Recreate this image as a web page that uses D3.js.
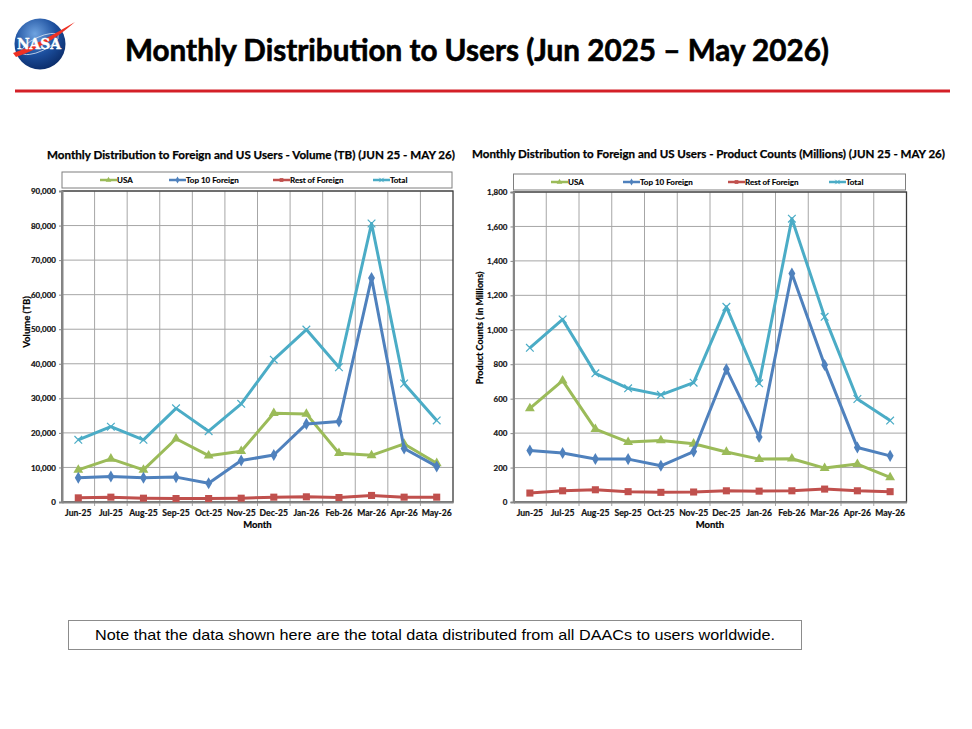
<!DOCTYPE html>
<html>
<head>
<meta charset="utf-8">
<script src="https://cdn.jsdelivr.net/npm/d3@7"></script>
<style>
  body { margin: 0; background: #fff; }
  text { font-family: Lato, "Open Sans", sans-serif; }
</style>
</head>
<body>
<div id="chart"></div>
<script>
// data
var months = ["Jun-25", "Jul-25", "Aug-25", "Sep-25", "Oct-25", "Nov-25",
              "Dec-25", "Jan-26", "Feb-26", "Mar-26", "Apr-26", "May-26"];

var volUSA   = [9300, 12500, 9300, 18300, 13400, 14700, 25700, 25500, 14100, 13500, 16800, 11200];
var volTop10 = [7000, 7400, 7000, 7200, 5400, 12000, 13600, 22600, 23300, 64800, 15500, 10300];
var volRest  = [1200, 1400, 1100, 1000, 1000, 1100, 1400, 1500, 1300, 1900, 1400, 1400];
var volTotal = [18000, 21800, 18000, 27100, 20500, 28400, 41200, 49900, 39000, 80600, 34300, 23600];

var cntUSA   = [543, 705, 423, 348, 357, 338, 290, 249, 251, 197, 220, 143];
var cntTop10 = [299, 284, 250, 249, 210, 293, 771, 377, 1327, 795, 316, 268];
var cntRest  = [52, 65, 71, 60, 56, 58, 65, 63, 65, 75, 65, 60];
var cntTotal = [895, 1060, 747, 660, 622, 693, 1133, 689, 1645, 1075, 598, 473];

var seriesNames = ["USA", "Top 10 Foreign", "Rest of Foreign", "Total"];
var seriesColors = ["#9bbb59", "#4f81bd", "#c0504d", "#4bacc6"];
var seriesSymbols = [d3.symbolTriangle, d3.symbolDiamond, d3.symbolSquare, d3.symbolX];

var volTicks = d3.range(0, 90001, 10000);
var cntTicks = d3.range(0, 1801, 200);

var svgWidth = 972;
var svgHeight = 729;

var svg = d3.select("#chart")
    .append("svg")
    .attr("width", svgWidth)
    .attr("height", svgHeight);

svg.append("rect")
    .attr("width", svgWidth)
    .attr("height", svgHeight)
    .attr("fill", "#fff");

// NASA meatball (simplified)
var logo = svg.append("g").attr("transform", "translate(40, 44)");
var grad = svg.append("defs").append("radialGradient")
    .attr("id", "ball")
    .attr("cx", "40%").attr("cy", "30%").attr("r", "75%");
grad.append("stop").attr("offset", "0%").attr("stop-color", "#6fa3e0");
grad.append("stop").attr("offset", "55%").attr("stop-color", "#1c4f9e");
grad.append("stop").attr("offset", "100%").attr("stop-color", "#0a2a66");
logo.append("circle").attr("r", 25.5).attr("fill", "url(#ball)");
logo.append("ellipse")
    .attr("rx", 20).attr("ry", 7)
    .attr("transform", "rotate(-25)")
    .attr("fill", "none").attr("stroke", "#dfe8f5").attr("stroke-width", 0.7);
logo.append("path")
    .attr("d", "M-27,9 C-6,2 14,-10 35,-22 C16,-5 -4,6 -24,13 Z")
    .attr("fill", "#ee3124");
logo.append("text")
    .attr("x", -1).attr("y", 5)
    .attr("text-anchor", "middle")
    .attr("fill", "#fff")
    .attr("stroke", "#fff")
    .attr("stroke-width", 0.4)
    .attr("font-size", 14)
    .attr("font-weight", "bold")
    .attr("textLength", 44)
    .attr("lengthAdjust", "spacingAndGlyphs")
    .style("font-family", "'DejaVu Serif', serif")
    .text("NASA");

svg.append("text")
    .attr("x", 477)
    .attr("y", 61)
    .attr("text-anchor", "middle")
    .attr("font-size", 30)
    .attr("font-weight", "bold")
    .attr("stroke", "#000")
    .attr("stroke-width", 0.6)
    .attr("textLength", 704)
    .attr("lengthAdjust", "spacingAndGlyphs")
    .text("Monthly Distribution to Users (Jun 2025 \u2013 May 2026)");

svg.append("line")
    .attr("x1", 15).attr("x2", 950)
    .attr("y1", 91).attr("y2", 91)
    .attr("stroke", "#d42027")
    .attr("stroke-width", 3);

function drawChart(cfg) {
    var x = d3.scaleBand()
        .domain(months)
        .range([cfg.left, cfg.right])
        .padding(0);

    var y = d3.scaleLinear()
        .domain([0, cfg.ticks[cfg.ticks.length - 1]])
        .range([cfg.bottom, cfg.top]);

    var g = svg.append("g");

    g.append("text")
        .attr("x", cfg.titleX)
        .attr("y", cfg.titleY)
        .attr("font-size", 11.5)
        .attr("font-weight", "bold")
        .attr("stroke", "#000")
        .attr("stroke-width", 0.25)
        .attr("textLength", cfg.titleLen)
        .attr("lengthAdjust", "spacingAndGlyphs")
        .text(cfg.title);

    // horizontal grid
    g.append("g")
        .selectAll("line")
        .data(cfg.ticks)
        .enter().append("line")
        .attr("x1", cfg.left).attr("x2", cfg.right)
        .attr("y1", d => y(d)).attr("y2", d => y(d))
        .attr("stroke", "#a6a6a6")
        .attr("stroke-width", 1);

    // vertical grid at category boundaries
    g.append("g")
        .selectAll("line")
        .data(months.slice(1))
        .enter().append("line")
        .attr("x1", d => x(d)).attr("x2", d => x(d))
        .attr("y1", cfg.top).attr("y2", cfg.bottom + 4)
        .attr("stroke", "#a6a6a6")
        .attr("stroke-width", 1);

    // plot border
    g.append("rect")
        .attr("x", cfg.left).attr("y", cfg.top)
        .attr("width", cfg.right - cfg.left)
        .attr("height", cfg.bottom - cfg.top)
        .attr("fill", "none")
        .attr("stroke", "#3a3a3a")
        .attr("stroke-width", 1.3);

    var leftAxis = d3.axisLeft(y)
        .tickValues(cfg.ticks)
        .tickFormat(d3.format(","))
        .tickSize(3)
        .tickPadding(3);

    var yAxis = g.append("g")
        .attr("transform", `translate(${cfg.left}, 0)`)
        .call(leftAxis);
    yAxis.select(".domain").attr("stroke", "#868686").attr("stroke-width", 2);
    yAxis.selectAll(".tick line").attr("stroke", "#868686");
    yAxis.selectAll("text")
        .attr("font-size", 8)
        .attr("font-weight", "bold")
        .attr("fill", "#111")
        .attr("stroke", "#111")
        .attr("stroke-width", 0.2);

    var bottomAxis = d3.axisBottom(x)
        .tickSize(0)
        .tickPadding(8);

    var xAxis = g.append("g")
        .attr("transform", `translate(0, ${cfg.bottom})`)
        .call(bottomAxis);
    xAxis.select(".domain").attr("stroke", "#868686").attr("stroke-width", 2);
    xAxis.selectAll("text")
        .attr("font-size", 8.6)
        .attr("font-weight", "bold")
        .attr("fill", "#111")
        .attr("stroke", "#111")
        .attr("stroke-width", 0.2);

    g.append("text")
        .attr("x", (cfg.left + cfg.right) / 2)
        .attr("y", cfg.bottom + 26)
        .attr("text-anchor", "middle")
        .attr("font-size", 9.5)
        .attr("font-weight", "bold")
        .attr("stroke", "#000")
        .attr("stroke-width", 0.2)
        .text("Month");

    g.append("text")
        .attr("transform", `translate(${cfg.yTitleX}, ${cfg.yTitleY}) rotate(-90)`)
        .attr("text-anchor", "middle")
        .attr("font-size", cfg.yTitleSize)
        .attr("font-weight", "bold")
        .attr("stroke", "#000")
        .attr("stroke-width", 0.2)
        .text(cfg.yTitle);

    var line = d3.line()
        .x((d, i) => x(months[i]) + x.bandwidth() / 2)
        .y(d => y(d));

    cfg.series.forEach(function(values, s) {
        g.append("path")
            .datum(values)
            .attr("d", line)
            .attr("fill", "none")
            .attr("stroke", seriesColors[s])
            .attr("stroke-width", 3)
            .attr("stroke-linejoin", "round");

        var sym = d3.symbol().type(seriesSymbols[s]).size(s === 3 ? 40 : (s === 2 ? 50 : 42));
        g.append("g")
            .selectAll("path")
            .data(values)
            .enter().append("path")
            .attr("transform", (d, i) => `translate(${x(months[i]) + x.bandwidth() / 2}, ${y(d)})`)
            .attr("d", sym)
            .attr("fill", s === 3 ? "none" : seriesColors[s])
            .attr("stroke", s === 3 ? seriesColors[s] : "none")
            .attr("stroke-width", 1.2);
    });

    // legend
    var lg = g.append("g");
    lg.append("rect")
        .attr("x", cfg.left).attr("y", cfg.legendY)
        .attr("width", cfg.right - cfg.left - 1)
        .attr("height", 16)
        .attr("fill", "#fff")
        .attr("stroke", "#7f7f7f")
        .attr("stroke-width", 1);

    seriesNames.forEach(function(name, s) {
        var lx = cfg.legendX[s];
        var ly = cfg.legendY + 8;
        lg.append("line")
            .attr("x1", lx).attr("x2", lx + 17)
            .attr("y1", ly).attr("y2", ly)
            .attr("stroke", seriesColors[s])
            .attr("stroke-width", 2.5);
        lg.append("path")
            .attr("transform", `translate(${lx + 8.5}, ${ly})`)
            .attr("d", d3.symbol().type(seriesSymbols[s]).size(14))
            .attr("fill", s === 3 ? "none" : seriesColors[s])
            .attr("stroke", s === 3 ? seriesColors[s] : "none");
        lg.append("text")
            .attr("x", lx + 17)
            .attr("y", ly + 3)
            .attr("font-size", 8)
            .attr("font-weight", "bold")
            .attr("stroke", "#000")
            .attr("stroke-width", 0.15)
            .text(name);
    });
}

drawChart({
    left: 62, right: 453, top: 191, bottom: 502,
    ticks: volTicks,
    series: [volUSA, volTop10, volRest, volTotal],
    title: "Monthly Distribution to Foreign and US Users - Volume  (TB) (JUN 25 - MAY 26)",
    titleX: 47, titleY: 159, titleLen: 408,
    yTitle: "Volume (TB)", yTitleX: 30, yTitleY: 322, yTitleSize: 9.5,
    legendY: 172, legendX: [100, 169, 273, 373]
});

drawChart({
    left: 513.5, right: 906.5, top: 192, bottom: 502,
    ticks: cntTicks,
    series: [cntUSA, cntTop10, cntRest, cntTotal],
    title: "Monthly Distribution to Foreign and US Users - Product Counts (Millions) (JUN 25 - MAY 26)",
    titleX: 472, titleY: 158, titleLen: 473,
    yTitle: "Product Counts ( in Millions)", yTitleX: 483, yTitleY: 328, yTitleSize: 9,
    legendY: 174, legendX: [551, 623, 728, 829]
});

// footnote box
svg.append("rect")
    .attr("x", 68.5).attr("y", 620.5)
    .attr("width", 733).attr("height", 29)
    .attr("fill", "#fff")
    .attr("stroke", "#8c8c8c")
    .attr("stroke-width", 1);

svg.append("text")
    .attr("x", 435)
    .attr("y", 640)
    .attr("text-anchor", "middle")
    .attr("font-size", 15)
    .attr("textLength", 680)
    .attr("lengthAdjust", "spacingAndGlyphs")
    .style("font-family", "'Liberation Sans', Arial, sans-serif")
    .text("Note that the data shown here are the total data distributed from all DAACs to users worldwide.");
</script>
</body>
</html>
